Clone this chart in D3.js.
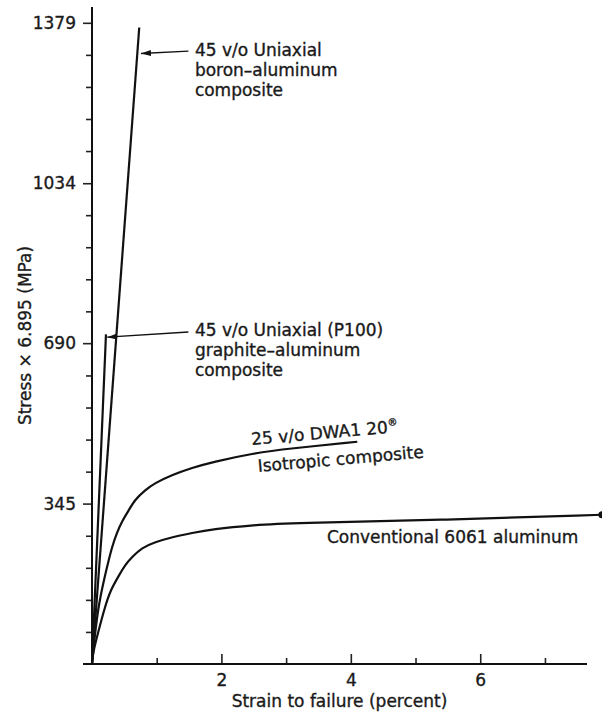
<!DOCTYPE html>
<html>
<head>
<meta charset="utf-8">
<script src="https://cdn.jsdelivr.net/npm/d3@7"></script>
<style>
  body { margin: 0; background: #fff; }
  svg text { font-family: "DejaVu Sans", sans-serif; font-size: 17px; fill: #1a1a1a; stroke: #1a1a1a; stroke-width: 0.35px; }
</style>
</head>
<body>
<div id="chart"></div>
<script>
// Stress-strain curves, strain in percent, stress in MPa
const boronStrain = [0, 0.73];
const boronStress = [0, 1369];

const graphiteStrain = [0, 0.216];
const graphiteStress = [0, 709];

const dwaStrain = [0, 0.015, 0.093, 0.20, 0.26, 0.31, 0.39, 0.46, 0.57, 0.66, 0.82, 0.97, 1.24, 1.55, 1.85, 2.52, 3.03, 4.10];
const dwaStress = [0, 24, 123, 190, 224, 252, 284, 306, 331, 353, 374, 389, 407, 422, 434, 454, 463, 478];

const alStrain = [0, 0.015, 0.093, 0.20, 0.29, 0.42, 0.51, 0.62, 0.77, 0.97, 1.24, 1.55, 1.85, 2.52, 3.03, 5.49, 7.88];
const alStress = [0, 24, 67, 123, 160, 191, 213, 230, 250, 262, 273, 282, 290, 299, 303, 310, 321];

const yTickValues = [345, 690, 1034, 1379];
const yTickLabels = ["345", "690", "1034", "1379"];
const xTickValues = [2, 4, 6];
const xTickLabels = ["2", "4", "6"];
const xMinorTicks = [1, 3, 5, 7];

const width = 602, height = 714;
const xMax = 7.65, yMax = 1413;

const svg = d3.select("#chart").append("svg")
  .attr("width", width)
  .attr("height", height);

svg.append("rect").attr("width", width).attr("height", height).attr("fill", "#fff");

const x = d3.scaleLinear().domain([0, xMax]).range([92, 587]);
const y = d3.scaleLinear().domain([0, yMax]).range([664, 7]);

// arrow head
svg.append("defs").append("marker")
  .attr("id", "arrow")
  .attr("viewBox", "0 0 10 6")
  .attr("refX", 10).attr("refY", 3)
  .attr("markerWidth", 10).attr("markerHeight", 6)
  .attr("markerUnits", "userSpaceOnUse")
  .attr("orient", "auto")
  .append("path").attr("d", "M0,0 L10,3 L0,6 Z").attr("fill", "#111");

// y axis: major ticks with labels
const yAxis = svg.append("g")
  .attr("transform", `translate(${x(0)},0)`)
  .call(d3.axisLeft(y).tickValues(yTickValues)
    .tickFormat((d, i) => yTickLabels[i])
    .tickSize(9).tickSizeOuter(0).tickPadding(7));
yAxis.select(".domain").remove();
yAxis.selectAll("text").attr("font-family", null).attr("font-size", null);

// y minor ticks every 10 ksi
const yMinor = d3.range(1, 21).map(k => k * 68.95)
  .filter(v => !yTickValues.some(t => Math.abs(t - v) < 5));
svg.append("g")
  .attr("transform", `translate(${x(0)},0)`)
  .call(d3.axisLeft(y).tickValues(yMinor).tickFormat("").tickSize(6).tickSizeOuter(0))
  .select(".domain").remove();

// x axis: ticks point up into the plot
const xAxis = svg.append("g")
  .attr("transform", `translate(0,${y(0)})`)
  .call(d3.axisBottom(x).tickValues(xTickValues)
    .tickFormat((d, i) => xTickLabels[i])
    .tickSize(-10).tickSizeOuter(0).tickPadding(10));
xAxis.select(".domain").remove();
xAxis.selectAll("text").attr("font-family", null).attr("font-size", null);

svg.append("g")
  .attr("transform", `translate(0,${y(0)})`)
  .call(d3.axisBottom(x).tickValues(xMinorTicks).tickFormat("").tickSize(-6).tickSizeOuter(0))
  .select(".domain").remove();

svg.selectAll(".tick line").attr("stroke", "#222").attr("stroke-width", 1.6);

// axis lines
svg.append("line")
  .attr("x1", x(0)).attr("x2", x(0)).attr("y1", y(0)).attr("y2", y(yMax))
  .attr("stroke", "#111").attr("stroke-width", 2);
svg.append("line")
  .attr("x1", x(0) - 9).attr("x2", x(xMax)).attr("y1", y(0)).attr("y2", y(0))
  .attr("stroke", "#111").attr("stroke-width", 2);

// axis titles
svg.append("text")
  .attr("x", (x(0) + x(xMax)) / 2).attr("y", 707)
  .attr("text-anchor", "middle")
  .text("Strain to failure (percent)");

svg.append("text")
  .attr("transform", `translate(31,${(y(0) + y(yMax)) / 2}) rotate(-90)`)
  .attr("text-anchor", "middle")
  .text("Stress \u00d7 6.895 (MPa)");

// curves
const line = d3.line().x(d => x(d[0])).y(d => y(d[1]));
const smooth = d3.line().x(d => x(d[0])).y(d => y(d[1])).curve(d3.curveBasis);
const zip = (a, b) => a.map((v, i) => [v, b[i]]);

const curves = [
  { pts: zip(boronStrain, boronStress), gen: line },
  { pts: zip(graphiteStrain, graphiteStress), gen: line },
  { pts: zip(dwaStrain, dwaStress), gen: smooth },
  { pts: zip(alStrain, alStress), gen: smooth }
];

svg.selectAll("path.curve")
  .data(curves)
  .enter()
  .append("path")
  .attr("class", "curve")
  .attr("d", d => d.gen(d.pts))
  .attr("fill", "none")
  .attr("stroke", "#111")
  .attr("stroke-width", 2.2);

svg.append("circle")
  .attr("cx", x(alStrain[alStrain.length - 1]))
  .attr("cy", y(alStress[alStress.length - 1]))
  .attr("r", 3.5)
  .attr("fill", "#111");

// annotations (positions in data units)
const boronLines = ["45 v/o Uniaxial", "boron\u2013aluminum", "composite"];
const graphiteLines = ["45 v/o Uniaxial (P100)", "graphite\u2013aluminum", "composite"];

function block(lines, sx, ss) {
  const t = svg.append("text").attr("x", x(sx)).attr("y", y(ss));
  lines.forEach((l, i) => {
    t.append("tspan").attr("x", x(sx)).attr("dy", i === 0 ? 0 : 20).text(l);
  });
}
block(boronLines, 1.59, 1307);
block(graphiteLines, 1.59, 705);

svg.append("line")
  .attr("x1", x(1.49)).attr("y1", y(1318))
  .attr("x2", x(0.757)).attr("y2", y(1313))
  .attr("stroke", "#111").attr("stroke-width", 1.3)
  .attr("marker-end", "url(#arrow)");

svg.append("line")
  .attr("x1", x(1.49)).attr("y1", y(714))
  .attr("x2", x(0.235)).attr("y2", y(703))
  .attr("stroke", "#111").attr("stroke-width", 1.3)
  .attr("marker-end", "url(#arrow)");

const dwa = svg.append("text")
  .attr("transform", `translate(${x(2.47)},${y(471)}) rotate(-5)`);
dwa.append("tspan").text("25 v/o DWA1 20");
dwa.append("tspan").attr("dy", -7).style("font-size", "10px").text("\u00ae");

svg.append("text")
  .attr("transform", `translate(${x(2.57)},${y(413)}) rotate(-5)`)
  .text("Isotropic composite");

svg.append("text")
  .attr("x", x(3.63)).attr("y", y(260))
  .text("Conventional 6061 aluminum");
</script>
</body>
</html>
